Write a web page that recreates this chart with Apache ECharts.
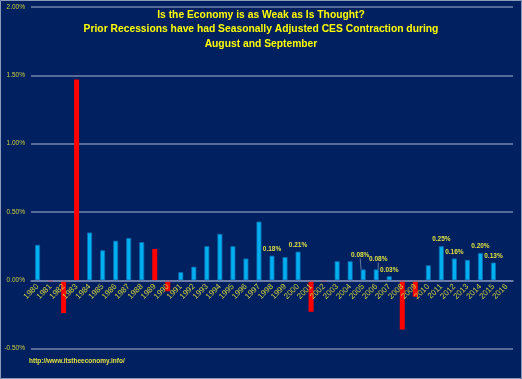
<!DOCTYPE html>
<html>
<head>
<meta charset="utf-8">
<script src="https://cdn.jsdelivr.net/npm/echarts@6/dist/echarts.min.js"></script>
<style>
html,body{margin:0;padding:0;background:#002060;}
#c{width:522px;height:379px;}
</style>
</head>
<body>
<div id="c"></div>
<script>
// ---- data ----
var years = ['1980','1981','1982','1983','1984','1985','1986','1987','1988','1989',
  '1990','1991','1992','1993','1994','1995','1996','1997','1998','1999',
  '2000','2001','2002','2003','2004','2005','2006','2007','2008','2009',
  '2010','2011','2012','2013','2014','2015','2016'];
var values = [0.26, -0.01, -0.24, 1.47, 0.35, 0.22, 0.29, 0.31, 0.28, 0.23,
  -0.08, 0.06, 0.10, 0.25, 0.34, 0.25, 0.16, 0.43, 0.18, 0.17,
  0.21, -0.23, -0.01, 0.14, 0.14, 0.08, 0.08, 0.03, -0.36, -0.12,
  0.11, 0.25, 0.16, 0.15, 0.20, 0.13, null];
var recessionYears = ['1981','1982','1983','1989','1990','2001','2002','2008','2009'];
var labeledYears = ['1998','2000','2005','2006','2007','2011','2012','2014','2015'];
var movedLabels = {'2005': [-3, -8], '2006': [2, -4]};
var yTicks = [-0.5, 0, 0.5, 1.0, 1.5, 2.0];
var titleLines = ['Is the Economy is as Weak as Is Thought?',
  'Prior Recessions have had Seasonally Adjusted CES Contraction during',
  'August and September'];
var footerText = 'http://www.itstheeconomy.info/';

// ---- build ----
var W = 522, H = 379;
var gridLeft = 31, gridRight = 9, gridTop = 7, gridBottom = 30.3;
var yMin = yTicks[0], yMax = yTicks[yTicks.length - 1];
var plotH = H - gridTop - gridBottom;
// bottom offset of a grid whose bottom edge sits on the zero line
var zeroBottom = gridBottom + plotH * (0 - yMin) / (yMax - yMin);

var barData = years.map(function (y, i) {
  var isRec = recessionYears.indexOf(y) >= 0;
  var item = {
    value: values[i],
    itemStyle: isRec ? {color: '#ff0000', borderWidth: 0}
                     : {color: '#00b0f0', borderColor: '#0b6bb0', borderWidth: 0.8}
  };
  if (labeledYears.indexOf(y) >= 0) {
    item.label = {show: true};
    if (movedLabels[y]) item.labelLine = {show: true};
  }
  return item;
});

var titleGraphics = titleLines.map(function (t, i) {
  return {
    type: 'text',
    x: 261,
    y: 15 + i * 14.5,
    style: {
      text: t,
      fill: '#ffff00',
      font: 'bold 10.3px "Liberation Sans"',
      align: 'center',
      verticalAlign: 'middle'
    }
  };
});

var chart = echarts.init(document.getElementById('c'), null, {renderer: 'canvas'});
chart.setOption({
  backgroundColor: '#002060',
  animation: false,
  grid: [
    {left: gridLeft, right: gridRight, top: gridTop, bottom: gridBottom, containLabel: false},
    {left: gridLeft, right: gridRight, top: gridTop, bottom: zeroBottom, containLabel: false}
  ],
  xAxis: [{
    type: 'category',
    gridIndex: 0,
    data: years,
    axisTick: {show: false},
    axisLine: {show: false},
    axisLabel: {show: false},
    splitLine: {show: false}
  }, {
    type: 'category',
    gridIndex: 1,
    data: years,
    z: 5,
    axisTick: {show: false},
    axisLine: {show: true, lineStyle: {color: '#7585ad', width: 1.5}},
    axisLabel: {
      interval: 0,
      rotate: 45,
      margin: 5,
      fontSize: 8,
      fontFamily: 'Liberation Sans',
      color: '#cfcf3c'
    },
    splitLine: {show: false}
  }],
  yAxis: [{
    type: 'value',
    gridIndex: 0,
    min: yMin,
    max: yMax,
    interval: 0.5,
    axisLine: {show: false},
    axisTick: {show: false},
    axisLabel: {
      margin: 6,
      fontSize: 6.5,
      fontFamily: 'Liberation Sans',
      color: '#cfcf3c',
      formatter: function (v) { return v.toFixed(2) + '%'; }
    },
    splitLine: {show: true, lineStyle: {color: '#7585ad', width: 1.5}}
  }, {
    type: 'value',
    gridIndex: 1,
    show: false,
    splitLine: {show: false}
  }],
  series: [{
    type: 'bar',
    xAxisIndex: 0,
    yAxisIndex: 0,
    data: barData,
    barWidth: 5,
    label: {
      show: false,
      position: 'top',
      distance: 3,
      fontSize: 6.5,
      fontWeight: 'bold',
      fontFamily: 'Liberation Sans',
      color: '#e0e040',
      formatter: function (p) { return p.value.toFixed(2) + '%'; }
    },
    labelLine: {show: false, lineStyle: {color: '#8090b0', width: 0.8}},
    labelLayout: function (params) {
      var y = years[params.dataIndex];
      if (movedLabels[y]) {
        return {dx: movedLabels[y][0], dy: movedLabels[y][1]};
      }
      return {};
    }
  }],
  graphic: titleGraphics.concat([
    {
      type: 'text',
      left: 29,
      top: 357.5,
      style: {
        text: footerText,
        fill: '#e0e040',
        font: 'bold 6.5px "Liberation Sans"'
      }
    },
    {
      type: 'rect',
      shape: {x: 0.5, y: 0.5, width: 521, height: 378},
      style: {fill: null, stroke: '#8a9ab8', lineWidth: 1},
      silent: true
    }
  ])
});
</script>
</body>
</html>
